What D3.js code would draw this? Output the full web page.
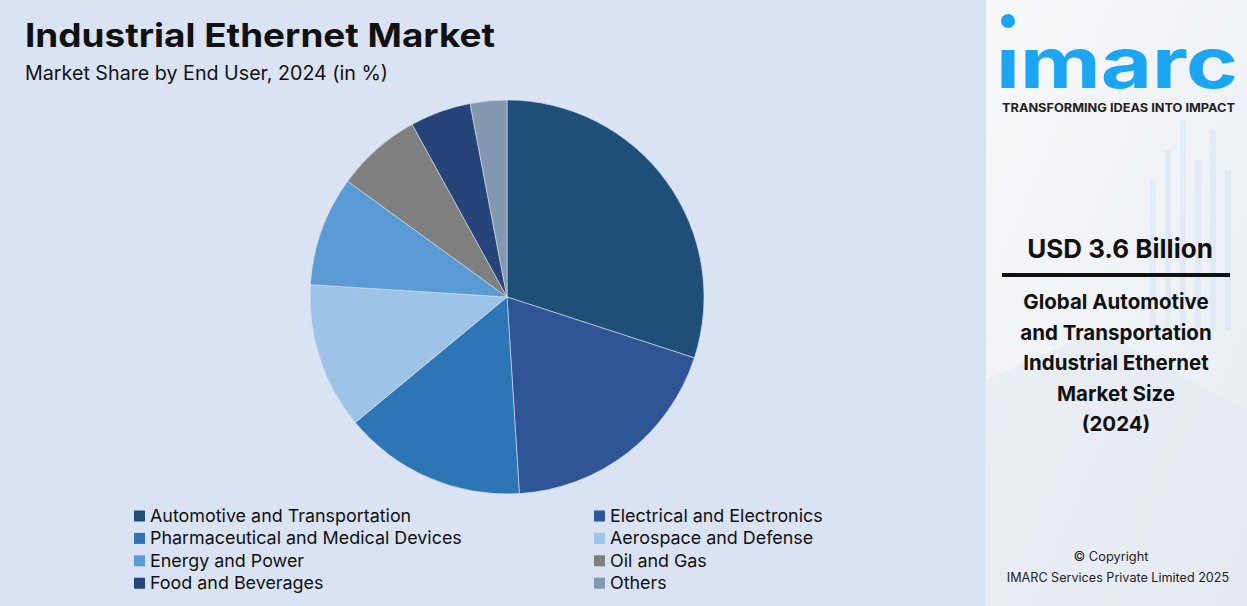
<!DOCTYPE html>
<html>
<head>
<meta charset="utf-8">
<script src="https://cdn.jsdelivr.net/npm/d3@7"></script>
<style>
  body { margin: 0; padding: 0; overflow: hidden; background: #dae3f3; }
  svg { display: block; }
  text { font-family: Inter, "Noto Sans", sans-serif; }
</style>
</head>
<body>
<div id="chart"></div>
<script>
// chart data
const categories = ["Automotive and Transportation", "Electrical and Electronics",
    "Pharmaceutical and Medical Devices", "Aerospace and Defense",
    "Energy and Power", "Oil and Gas", "Food and Beverages", "Others"];
const shares = [30, 19, 15, 12, 9, 7, 5, 3];
const colors = ["#1f4e79", "#2f5597", "#2e75b6", "#9dc3e6", "#5b9bd5", "#7f7f7f", "#264478", "#8497b0"];
const sideLines = ["Global Automotive", "and Transportation", "Industrial Ethernet", "Market Size", "(2024)"];

const W = 1247, H = 606;

const svg = d3.select("#chart").append("svg")
    .attr("width", W)
    .attr("height", H);

// left background
svg.append("rect")
    .attr("width", 986).attr("height", H)
    .attr("fill", "#dae3f3");

// right panel (photo-ish background)
const defs = svg.append("defs");
const grad = defs.append("linearGradient").attr("id", "panel")
    .attr("x1", 0).attr("y1", 0).attr("x2", 1).attr("y2", 1);
grad.append("stop").attr("offset", "0%").attr("stop-color", "#f7f8fa");
grad.append("stop").attr("offset", "60%").attr("stop-color", "#eef1f5");
grad.append("stop").attr("offset", "100%").attr("stop-color", "#e6ebf1");

svg.append("rect")
    .attr("x", 986).attr("width", W - 986).attr("height", H)
    .attr("fill", "url(#panel)");

// faint bars in the panel background
const deco = svg.append("g").attr("opacity", 0.25);
[[1150, 180, 6], [1165, 150, 6], [1180, 120, 6], [1195, 160, 6], [1210, 130, 6], [1225, 170, 6]]
    .forEach(function (d) {
        deco.append("rect")
            .attr("x", d[0]).attr("y", d[1])
            .attr("width", d[2]).attr("height", 330 - d[1])
            .attr("fill", "#bcd9ee");
    });
svg.append("path")
    .attr("d", "M986,380 L1100,330 L1247,410 L1247,606 L986,606 Z")
    .attr("fill", "#e4e9f0").attr("opacity", 0.6);

// titles
svg.append("text")
    .attr("x", 25).attr("y", 47)
    .attr("font-size", 33).attr("font-weight", 700)
    .attr("fill", "#111")
    .attr("textLength", 470)
    .attr("lengthAdjust", "spacingAndGlyphs")
    .text("Industrial Ethernet Market");

svg.append("text")
    .attr("x", 25).attr("y", 80)
    .attr("font-size", 19.5)
    .attr("fill", "#111")
    .attr("textLength", 363)
    .attr("lengthAdjust", "spacingAndGlyphs")
    .text("Market Share by End User, 2024 (in %)");

// pie
const radius = 197;
const pie = d3.pie().sort(null).value(function (d) { return d; });
const arc = d3.arc().innerRadius(0).outerRadius(radius);

const g = svg.append("g").attr("transform", "translate(507,297)");
g.selectAll("path")
    .data(pie(shares))
    .join("path")
    .attr("d", arc)
    .attr("fill", function (d, i) { return colors[i]; })
    .attr("stroke", "#dae3f3")
    .attr("stroke-width", 0.6);

// legend
const legend = svg.append("g");
categories.forEach(function (c, i) {
    const col = i % 2, row = Math.floor(i / 2);
    const x = col === 0 ? 134 : 594;
    const y = 516 + row * 22.4;
    legend.append("rect")
        .attr("x", x).attr("y", y - 5.5)
        .attr("width", 11).attr("height", 11)
        .attr("fill", colors[i]);
    legend.append("text")
        .attr("x", x + 16).attr("y", y + 6)
        .attr("font-size", 17.9)
        .attr("fill", "#111")
        .text(c);
});

// logo
svg.append("circle")
    .attr("cx", 1008).attr("cy", 21).attr("r", 7)
    .attr("fill", "#1ca6f2");
svg.append("text")
    .attr("x", 996).attr("y", 88)
    .attr("font-size", 70).attr("font-weight", 700)
    .attr("fill", "#1ca6f2")
    .attr("textLength", 242)
    .attr("lengthAdjust", "spacingAndGlyphs")
    .text("ımarc");
svg.append("text")
    .attr("x", 1002).attr("y", 112)
    .attr("font-size", 11.5).attr("font-weight", 700)
    .attr("fill", "#222")
    .attr("textLength", 233)
    .attr("lengthAdjust", "spacingAndGlyphs")
    .text("TRANSFORMING IDEAS INTO IMPACT");

// market size block
svg.append("text")
    .attr("x", 1120).attr("y", 258)
    .attr("text-anchor", "middle")
    .attr("font-size", 26).attr("font-weight", 700)
    .attr("fill", "#111")
    .text("USD 3.6 Billion");

svg.append("rect")
    .attr("x", 1002).attr("y", 273)
    .attr("width", 228).attr("height", 4)
    .attr("fill", "#111");

sideLines.forEach(function (t, i) {
    svg.append("text")
        .attr("x", 1116).attr("y", 309 + i * 30.5)
        .attr("text-anchor", "middle")
        .attr("font-size", 20.5).attr("font-weight", 700)
        .attr("fill", "#111")
        .text(t);
});

// copyright
svg.append("text")
    .attr("x", 1111).attr("y", 561)
    .attr("text-anchor", "middle")
    .attr("font-size", 12.8)
    .attr("fill", "#222")
    .text("© Copyright");
svg.append("text")
    .attr("x", 1118).attr("y", 582)
    .attr("text-anchor", "middle")
    .attr("font-size", 12.6)
    .attr("fill", "#222")
    .text("IMARC Services Private Limited 2025");
</script>
</body>
</html>
